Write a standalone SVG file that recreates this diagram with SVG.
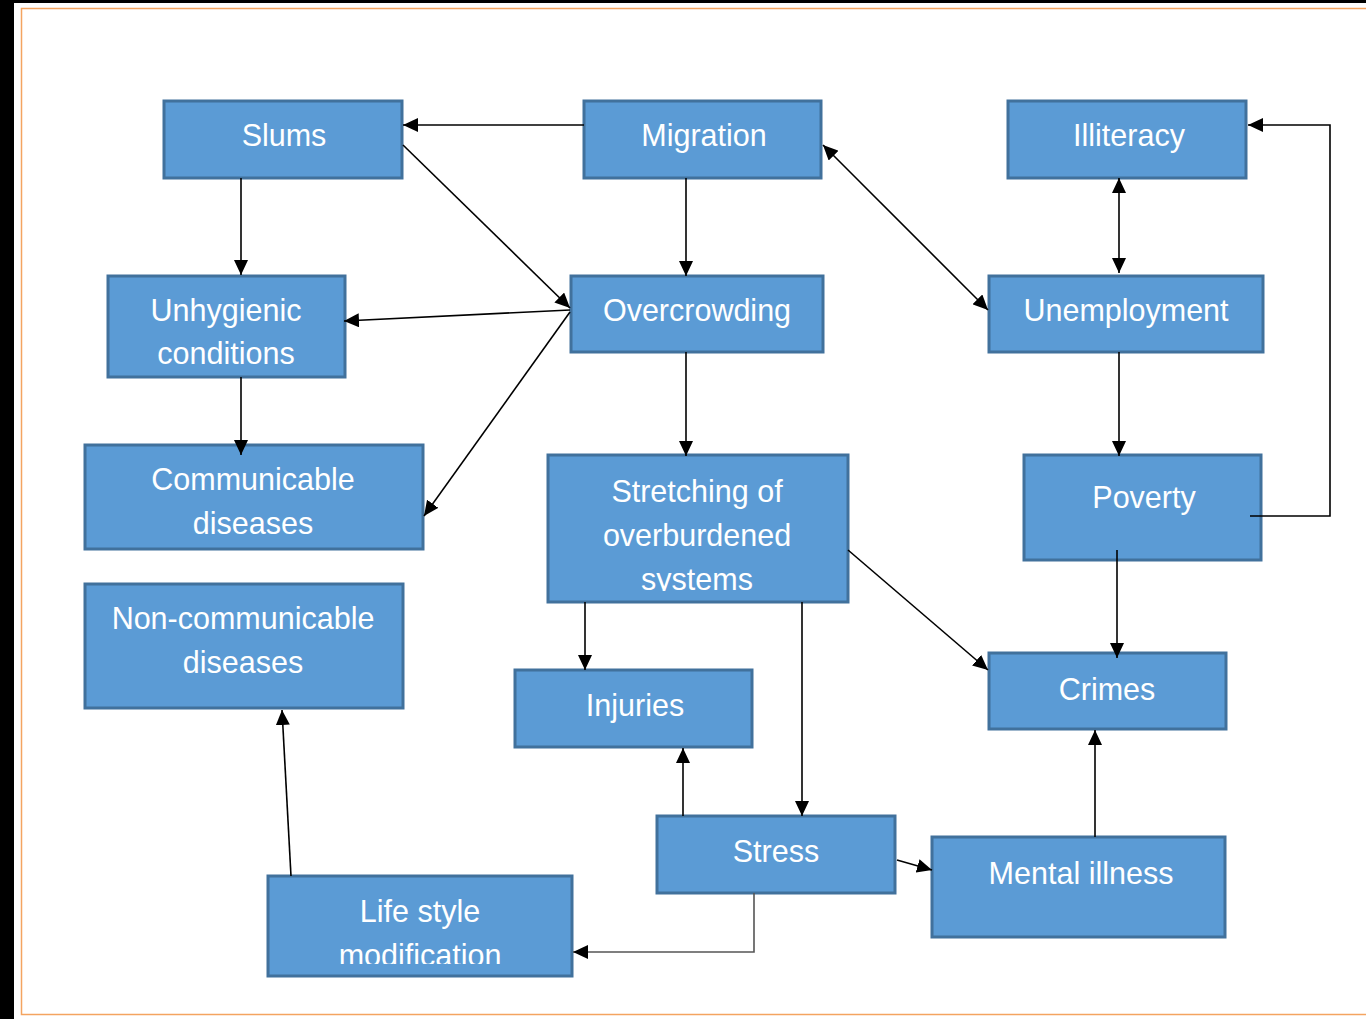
<svg xmlns="http://www.w3.org/2000/svg" width="1366" height="1019" viewBox="0 0 1366 1019">
<style>
.box{fill:#5B9BD5;stroke:#41719C;stroke-width:3}
.t{font-family:"Liberation Sans",Arial,sans-serif;font-size:30.5px;fill:#FFFFFF;text-anchor:middle;dominant-baseline:central}
.c{fill:none;stroke:#000;stroke-width:1.6}
.g{stroke:#555}
.a{marker-end:url(#ah)}
.b{marker-end:url(#ah);marker-start:url(#ah)}
</style>
<defs>
<marker id="ah" markerUnits="userSpaceOnUse" markerWidth="16" markerHeight="14" refX="15" refY="7" orient="auto-start-reverse"><path d="M0,0 L15,7 L0,14 z" fill="#000"/></marker>
<clipPath id="cs"><rect x="548" y="455" width="300" height="136"/></clipPath>
<clipPath id="cl"><rect x="268" y="876" width="304" height="88"/></clipPath>
</defs>
<rect x="0" y="0" width="1366" height="1019" fill="#fff"/>
<rect x="0" y="0" width="14" height="1019" fill="#000"/>
<rect x="0" y="0" width="1366" height="3" fill="#000"/>
<rect x="21.5" y="8.5" width="1370" height="1006" fill="none" stroke="#F4A460" stroke-width="1.5"/>
<g id="slums"><rect class="box" x="164" y="101" width="238" height="77"/><text class="t" x="284" y="135">Slums</text></g>
<g id="migration"><rect class="box" x="584" y="101" width="237" height="77"/><text class="t" x="704" y="135">Migration</text></g>
<g id="illiteracy"><rect class="box" x="1008" y="101" width="238" height="77"/><text class="t" x="1129" y="135">Illiteracy</text></g>
<g id="unhygienic"><rect class="box" x="108" y="276" width="237" height="101"/><text class="t" x="226" y="310">Unhygienic</text><text class="t" x="226" y="353">conditions</text></g>
<g id="overcrowding"><rect class="box" x="571" y="276" width="252" height="76"/><text class="t" x="697" y="310">Overcrowding</text></g>
<g id="unemployment"><rect class="box" x="989" y="276" width="274" height="76"/><text class="t" x="1126" y="310">Unemployment</text></g>
<g id="communicable"><rect class="box" x="85" y="445" width="338" height="104"/><text class="t" x="253" y="479">Communicable</text><text class="t" x="253" y="523">diseases</text></g>
<g id="stretching"><rect class="box" x="548" y="455" width="300" height="147"/><g clip-path="url(#cs)"><text class="t" x="697" y="491">Stretching of</text><text class="t" x="697" y="535">overburdened</text><text class="t" x="697" y="579">systems</text></g></g>
<g id="poverty"><rect class="box" x="1024" y="455" width="237" height="105"/><text class="t" x="1144" y="497">Poverty</text></g>
<g id="noncommunicable"><rect class="box" x="85" y="584" width="318" height="124"/><text class="t" x="243" y="618">Non-communicable</text><text class="t" x="243" y="662">diseases</text></g>
<g id="injuries"><rect class="box" x="515" y="670" width="237" height="77"/><text class="t" x="635" y="705">Injuries</text></g>
<g id="crimes"><rect class="box" x="989" y="653" width="237" height="76"/><text class="t" x="1107" y="689">Crimes</text></g>
<g id="stress"><rect class="box" x="657" y="816" width="238" height="77"/><text class="t" x="776" y="851">Stress</text></g>
<g id="mental"><rect class="box" x="932" y="837" width="293" height="100"/><text class="t" x="1081" y="873">Mental illness</text></g>
<g id="lifestyle"><rect class="box" x="268" y="876" width="304" height="100"/><g clip-path="url(#cl)"><text class="t" x="420" y="911">Life style</text><text class="t" x="420" y="955">modification</text></g></g>
<g id="connectors">
<path class="c a" d="M584,125 H403"/>
<path class="c a" d="M241,178 V275"/>
<path class="c a" d="M403,145 L570,308"/>
<path class="c a" d="M686,178 V276"/>
<path class="c a" d="M570,310 L344,321"/>
<path class="c a" d="M570,312 L424,516"/>
<path class="c a" d="M241,377 V455"/>
<path class="c b" d="M823,145 L988,310"/>
<path class="c b" d="M1119,178 V273"/>
<path class="c a" d="M1119,352 V456"/>
<path class="c a" d="M1250,516 H1330 V125 H1248"/>
<path class="c a" d="M686,352 V456"/>
<path class="c a" d="M848,550 L988,670"/>
<path class="c a" d="M1117,550 V658"/>
<path class="c a" d="M585,602 V670"/>
<path class="c a" d="M802,602 V816"/>
<path class="c a" d="M683,816 V748"/>
<path class="c a" d="M897,860 L932,870"/>
<path class="c a" d="M1095,837 V730"/>
<path class="c g a" d="M754,893 V952 H573"/>
<path class="c a" d="M291,876 L282,710"/>
</g>
</svg>
